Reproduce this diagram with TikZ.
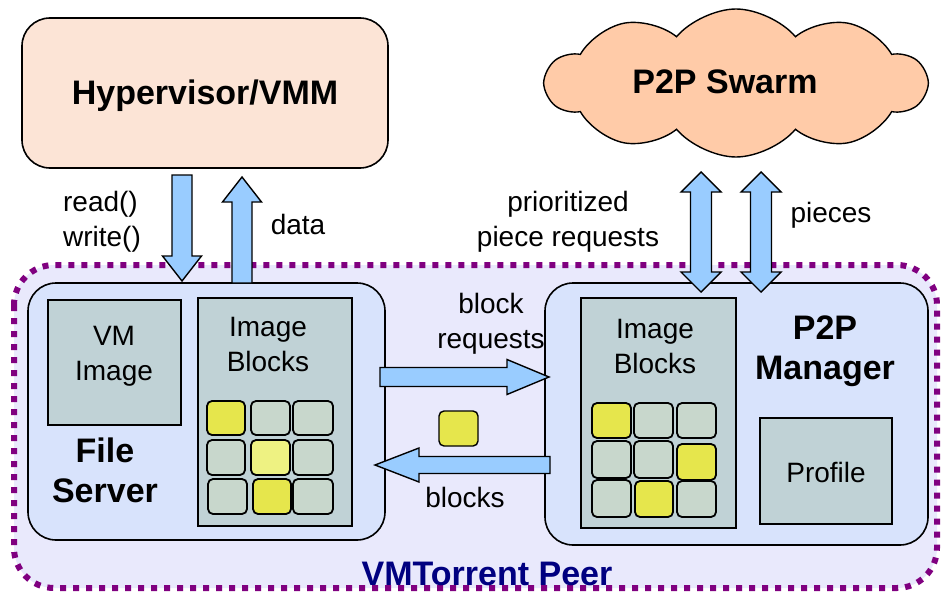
\documentclass[tikz,border=0pt]{standalone}
\usepackage{fontspec}
\setmainfont{Liberation Sans}
\usetikzlibrary{calc,shapes.symbols}

\definecolor{peach}{HTML}{FCE4D6}
\definecolor{salmon}{HTML}{FFCBA8}
\definecolor{lavender}{HTML}{E9E9FC}
\definecolor{paleblue}{HTML}{D8E3FC}
\definecolor{slate}{HTML}{C0D2D6}
\definecolor{cellgray}{HTML}{C8D7CC}
\definecolor{cellyellow}{HTML}{E6E64C}
\definecolor{celllight}{HTML}{EEF282}
\definecolor{arrowblue}{HTML}{99CCFF}
\definecolor{peerpurple}{HTML}{800080}
\definecolor{navy}{HTML}{000080}

% box given by its corners in pixel-like units
\newcommand{\boxat}[6]{% style, name, x1, y1, x2, y2
  \node[#1, minimum width={#5-#3}, minimum height={#6-#4}] (#2) at ({(#3+#5)/2},{(#4+#6)/2}) {};
}

% single block arrow from #1 to #2 (shaft half width \sw, head half width \hw, head length \hl)
\newcommand{\fatarrow}[2]{%
  \draw[blockarrow]
    ($(#1)!\sw!90:(#2)$) --
    ($($(#2)!\hl!(#1)$)!\sw!90:(#2)$) --
    ($($(#2)!\hl!(#1)$)!\hw!90:(#2)$) --
    (#2) --
    ($($(#2)!\hl!(#1)$)!\hw!-90:(#2)$) --
    ($($(#2)!\hl!(#1)$)!\sw!-90:(#2)$) --
    ($(#1)!\sw!-90:(#2)$) -- cycle;
}

% double-headed block arrow between #1 and #2
\newcommand{\dblarrow}[2]{%
  \draw[blockarrow]
    (#1) --
    ($($(#1)!\hl!(#2)$)!\hw!-90:(#2)$) --
    ($($(#1)!\hl!(#2)$)!\sw!-90:(#2)$) --
    ($($(#2)!\hl!(#1)$)!\sw!90:(#1)$) --
    ($($(#2)!\hl!(#1)$)!\hw!90:(#1)$) --
    (#2) --
    ($($(#2)!\hl!(#1)$)!\hw!-90:(#1)$) --
    ($($(#2)!\hl!(#1)$)!\sw!-90:(#1)$) --
    ($($(#1)!\hl!(#2)$)!\sw!90:(#2)$) --
    ($($(#1)!\hl!(#2)$)!\hw!90:(#2)$) -- cycle;
}

\begin{document}
\begin{tikzpicture}[x=1pt,y=-1pt,
  every node/.style={inner sep=0pt, outer sep=0pt},
  bigbox/.style={draw=black, line width=1.6pt, rounded corners=28pt, rectangle},
  panel/.style={draw=black, line width=1.6pt, fill=slate, rectangle},
  cell/.style={draw=black, line width=1.8pt, rounded corners=5pt, rectangle},
  blockarrow/.style={draw=black, line width=1.4pt, fill=arrowblue, line join=miter},
  title/.style={font=\fontsize{34}{40}\selectfont\bfseries, align=center},
  label/.style={font=\fontsize{28}{35}\selectfont, align=center},
]
\useasboundingbox (0,0) rectangle (941,594);

% VMTorrent peer region
\draw[fill=lavender, draw=peerpurple, line width=6pt, dash pattern=on 6pt off 7pt, rounded corners=40pt]
  (14,265) rectangle (937,588);
\node[font=\fontsize{34}{40}\selectfont\bfseries, text=navy] (peer) at (487,574) {VMTorrent Peer};

% hypervisor and swarm
\boxat{bigbox, fill=peach}{hyp}{22}{18}{388}{168}
\node[title] (hyptext) at (205,96) {Hypervisor/VMM};

\node[cloud, cloud puffs=10, cloud puff arc=100, aspect=2.6, draw=black, line width=1.4pt, fill=salmon,
      minimum width=380pt, minimum height=148pt] (swarm) at (736,83) {};
\node[title] (swarmtext) at (725,82) {P2P Swarm};

% file server
\boxat{bigbox, fill=paleblue}{fs}{28}{283}{385}{540}
\boxat{panel}{vmimg}{48}{300}{181}{425}
\node[label] (vmimgtext) at (114,356) {VM\\Image};
\node[title] (fstext) at (105,470) {File\\Server};
\boxat{panel}{fsblocks}{198}{298}{352}{526}
\node[label] (fsblockstext) at (268,344) {Image\\Blocks};

\boxat{cell, fill=cellyellow}{fa1}{207}{401}{245}{435}
\boxat{cell, fill=cellgray}{fa2}{251}{401}{290}{435}
\boxat{cell, fill=cellgray}{fa3}{293}{401}{333}{435}
\boxat{cell, fill=cellgray}{fb1}{207}{440}{245}{475}
\boxat{cell, fill=celllight}{fb2}{251}{440}{290}{475}
\boxat{cell, fill=cellgray}{fb3}{293}{440}{333}{475}
\boxat{cell, fill=cellgray}{fc1}{208}{479}{247}{514}
\boxat{cell, fill=cellyellow}{fc2}{253}{479}{291}{514}
\boxat{cell, fill=cellgray}{fc3}{293}{479}{333}{514}

% P2P manager
\boxat{bigbox, fill=paleblue}{mgr}{545}{283}{928}{545}
\node[title] (mgrtext) at (825,351) {P2P\\Manager};
\boxat{panel}{mblocks}{581}{298}{736}{528}
\node[label] (mblockstext) at (655,346) {Image\\Blocks};
\boxat{panel}{profile}{760}{418}{892}{524}
\node[label] (profiletext) at (826,472) {Profile};

\boxat{cell, fill=cellyellow}{ma1}{592}{403}{631}{438}
\boxat{cell, fill=cellgray}{ma2}{634}{403}{673}{438}
\boxat{cell, fill=cellgray}{ma3}{677}{403}{716}{438}
\boxat{cell, fill=cellgray}{mb1}{592}{441}{631}{478}
\boxat{cell, fill=cellgray}{mb2}{634}{441}{673}{478}
\boxat{cell, fill=cellyellow}{mb3}{677}{444}{716}{480}
\boxat{cell, fill=cellgray}{mc1}{592}{480}{631}{517}
\boxat{cell, fill=cellyellow}{mc2}{635}{481}{673}{517}
\boxat{cell, fill=cellgray}{mc3}{677}{481}{716}{517}

% block in transit
\boxat{cell, fill=cellyellow, line width=1.4pt}{transit}{439}{411}{478}{446}

% arrow end points
\coordinate (rwtop) at (182,175);
\coordinate (rwtip) at (182,281);
\coordinate (databot) at (242,283);
\coordinate (datatip) at (242,177);
\coordinate (reqstart) at (380,377);
\coordinate (reqtip) at (549,377);
\coordinate (blkstart) at (550,465);
\coordinate (blktip) at (375,465);
\coordinate (preqtop) at (701,172);
\coordinate (preqbot) at (701,292);
\coordinate (pcstop) at (761,172);
\coordinate (pcsbot) at (761,292);

\def\sw{10pt}\def\hw{19.5pt}\def\hl{25pt}
\fatarrow{rwtop}{rwtip}
\fatarrow{databot}{datatip}
\def\sw{9.5pt}\def\hw{17.5pt}\def\hl{42pt}
\fatarrow{reqstart}{reqtip}
\def\sw{8.5pt}\def\hw{17pt}\def\hl{44pt}
\fatarrow{blkstart}{blktip}
\def\sw{10.5pt}\def\hw{20pt}\def\hl{20pt}
\dblarrow{preqtop}{preqbot}
\dblarrow{pcstop}{pcsbot}

% arrow labels
\node[label, align=left] (rwlabel) at (102,222) {read()\\write()};
\node[label] (datalabel) at (298,224) {data};
\node[label] (preqlabel) at (568,222) {prioritized\\piece requests};
\node[label] (pcslabel) at (831,215) {pieces};
\node[label] (reqlabel) at (491,324) {block\\requests};
\node[label] (blklabel) at (465,497) {blocks};
\end{tikzpicture}
\end{document}
